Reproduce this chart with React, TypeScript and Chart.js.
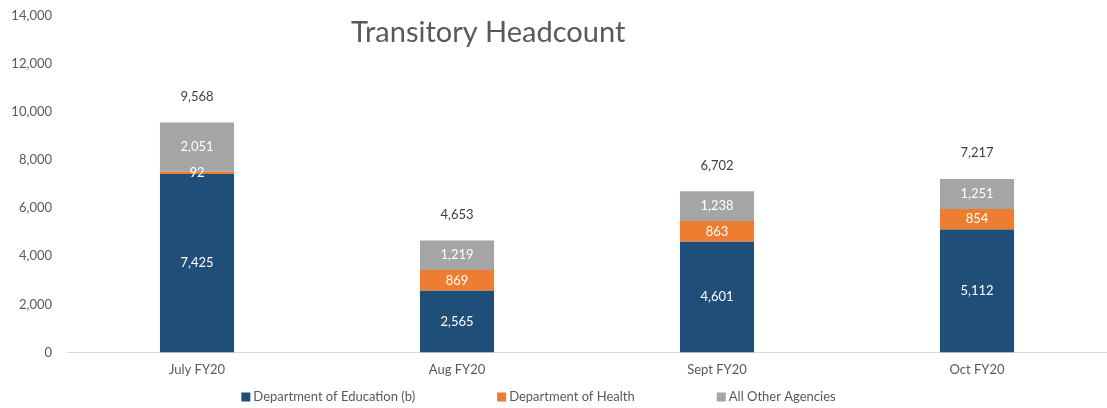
import React, { useEffect, useRef } from "react";
import { Chart, registerables } from "chart.js";

Chart.register(...registerables);

const categories = ["July FY20", "Aug FY20", "Sept FY20", "Oct FY20"];
const education = [7425, 2565, 4601, 5112];
const health = [92, 869, 863, 854];
const otherAgencies = [2051, 1219, 1238, 1251];
const totals = [9568, 4653, 6702, 7217];
const seriesNames = ["Department of Education (b)", "Department of Health", "All Other Agencies"];
const seriesColors = ["#1F4E79", "#ED7D31", "#A5A5A5"];
const titleText = "Transitory Headcount";

const FONT = "Lato, 'Open Sans', sans-serif";
const fmt = (v: number) => v.toLocaleString("en-US");

const labelsPlugin = {
  id: "customLabels",
  afterDatasetsDraw(chart: any) {
    const ctx = chart.ctx;
    ctx.save();
    ctx.font = `13px ${FONT}`;
    ctx.textAlign = "center";
    ctx.textBaseline = "middle";
    chart.data.datasets.forEach((ds: any, di: number) => {
      const meta = chart.getDatasetMeta(di);
      meta.data.forEach((el: any, i: number) => {
        const v = ds.data[i];
        ctx.fillStyle = "#FFFFFF";
        ctx.fillText(fmt(v), el.x, (el.y + el.base) / 2);
      });
    });
    const lastMeta = chart.getDatasetMeta(chart.data.datasets.length - 1);
    ctx.fillStyle = "#404040";
    lastMeta.data.forEach((el: any, i: number) => {
      ctx.fillText(fmt(totals[i]), el.x, el.y - 26);
    });
    // title
    const ca = chart.chartArea;
    ctx.font = `29px ${FONT}`;
    ctx.fillStyle = "#595959";
    ctx.fillText(titleText, ca.left + (ca.right - ca.left) * 0.405, 33);
    // legend
    ctx.font = `13px ${FONT}`;
    ctx.textAlign = "left";
    const box = 9;
    const gapText = 3;
    const gapItem = 82;
    const widths = chart.data.datasets.map((ds: any) => box + gapText + ctx.measureText(ds.label).width);
    const total = widths.reduce((a: number, b: number) => a + b, 0) + gapItem * (widths.length - 1);
    let x = chart.width / 2 - total / 2 - 15;
    const y = 397;
    chart.data.datasets.forEach((ds: any, di: number) => {
      ctx.fillStyle = ds.backgroundColor;
      ctx.fillRect(x, y - box / 2, box, box);
      ctx.fillStyle = "#595959";
      ctx.fillText(ds.label, x + box + gapText, y);
      x += widths[di] + gapItem;
    });
    ctx.restore();
  },
};

export default function App() {
  const ref = useRef<HTMLCanvasElement | null>(null);
  useEffect(() => {
    if (!ref.current) return;
    const values = [education, health, otherAgencies];
    const chart = new Chart(ref.current, {
      type: "bar",
      data: {
        labels: categories,
        datasets: values.map((d, i) => ({
          label: seriesNames[i],
          data: d,
          backgroundColor: seriesColors[i],
          borderWidth: 0,
          barPercentage: 0.285,
          categoryPercentage: 1,
        })),
      },
      options: {
        animation: false,
        responsive: true,
        maintainAspectRatio: false,
        layout: { padding: { top: 16, right: 0, bottom: 20, left: 0 } },
        plugins: {
          legend: { display: false },
          title: { display: false },
          tooltip: { enabled: false },
        },
        scales: {
          x: {
            stacked: true,
            grid: { display: false, drawTicks: false },
            border: { display: true, color: "#D9D9D9", width: 1 },
            ticks: { color: "#595959", font: { family: FONT, size: 13 }, padding: 10 },
          },
          y: {
            stacked: true,
            min: 0,
            max: 14000,
            grid: { display: false, drawTicks: false },
            border: { display: false },
            ticks: {
              stepSize: 2000,
              color: "#595959",
              font: { family: FONT, size: 13 },
              padding: 15,
              callback: (v: any) => fmt(Number(v)),
            },
            afterFit: (scale: any) => {
              scale.width = 67;
              scale.paddingTop = 0;
              scale.paddingBottom = 0;
            },
          },
        },
      },
      plugins: [labelsPlugin],
    });
    return () => chart.destroy();
  }, []);
  return (
    <div style={{ position: "fixed", left: 0, top: 0, width: 1107, height: 408, background: "#fff" }}>
      <canvas ref={ref} />
    </div>
  );
}
